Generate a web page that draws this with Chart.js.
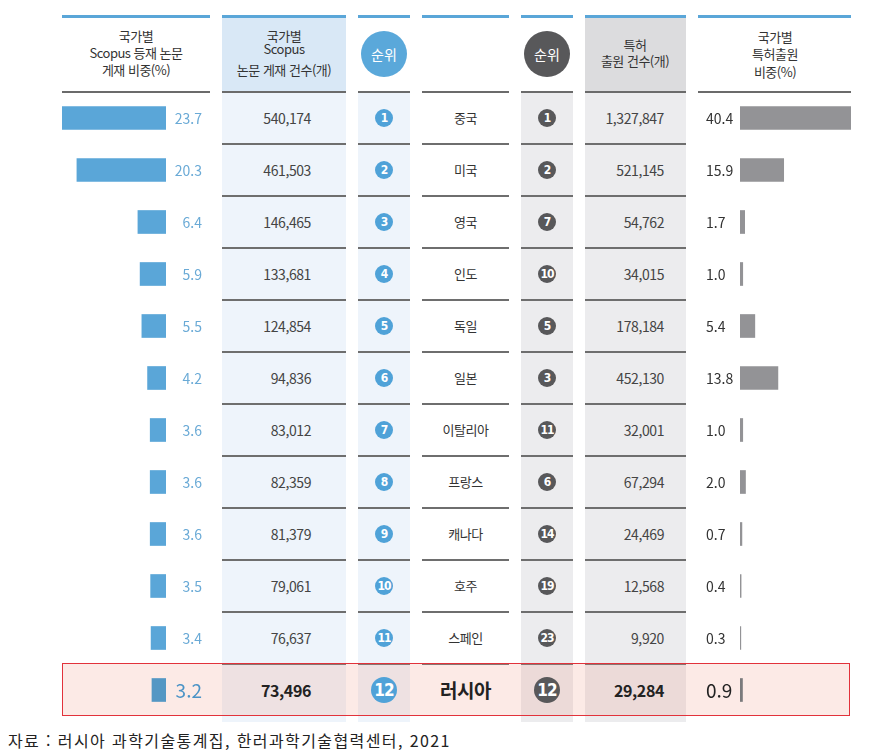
<!DOCTYPE html>
<html lang="ko">
<head>
  <meta charset="UTF-8" />
  <title>러시아 논문·특허 비교</title>
  <style>
    body { margin: 0; background: #fff; font-family: "Noto Sans CJK KR", "Noto Sans", sans-serif; color: #333; }
    #wrap { position: relative; width: 876px; height: 753px; overflow: hidden; }
    .abs { position: absolute; }
    #foot { position: absolute; left: 8px; top: 728px; font-size: 16px; color: #222; letter-spacing: 1.4px; white-space: nowrap; }
  </style>
</head>
<body>
<div id="wrap">
  <canvas id="leftChart" class="abs" width="148" height="624" style="left:62px;top:92px;z-index:2"></canvas>
  <canvas id="rightChart" class="abs" width="153" height="624" style="left:698px;top:92px;z-index:2"></canvas>
  <div id="foot">자료 : 러시아 과학기술통계집, 한러과학기술협력센터, 2021</div>
</div>

<script src="https://cdn.jsdelivr.net/npm/chart.js"></script>
<script>
  // data
  const countries = ['중국', '미국', '영국', '인도', '독일', '일본', '이탈리아', '프랑스', '캐나다', '호주', '스페인', '러시아'];
  const scopusShare = [23.7, 20.3, 6.4, 5.9, 5.5, 4.2, 3.6, 3.6, 3.6, 3.5, 3.4, 3.2];
  const scopusCount = [540174, 461503, 146465, 133681, 124854, 94836, 83012, 82359, 81379, 79061, 76637, 73496];
  const scopusRank = [1, 2, 3, 4, 5, 6, 7, 8, 9, 10, 11, 12];
  const patentRank = [1, 2, 7, 10, 5, 3, 11, 6, 14, 19, 23, 12];
  const patentCount = [1327847, 521145, 54762, 34015, 178184, 452130, 32001, 67294, 24469, 12568, 9920, 29284];
  const patentShare = [40.4, 15.9, 1.7, 1.0, 5.4, 13.8, 1.0, 2.0, 0.7, 0.4, 0.3, 0.9];

  const ROW_TOP = 92, ROW_H = 52;
  const last = countries.length - 1;
  const wrap = document.getElementById('wrap');

  function box(css, html) {
    const d = document.createElement('div');
    d.style.cssText = 'position:absolute;' + css;
    if (html !== undefined) d.innerHTML = html;
    wrap.appendChild(d);
    return d;
  }

  // columns: [left, width]
  const cols = [[62, 148], [222, 124], [358, 52], [422, 87], [521, 52], [585, 101], [698, 153]];

  // column backgrounds
  box('left:222px;top:18px;width:124px;height:74px;background:#d9e8f6');
  box('left:222px;top:92px;width:124px;height:630px;background:#eef4fb');
  box('left:358px;top:92px;width:52px;height:630px;background:#eef4fb');
  box('left:521px;top:92px;width:52px;height:630px;background:#ececee');
  box('left:585px;top:18px;width:101px;height:74px;background:#dcdcde');
  box('left:585px;top:92px;width:101px;height:630px;background:#ececee');

  // top blue lines, header bottom lines
  cols.forEach(c => {
    box('left:' + c[0] + 'px;top:15px;width:' + c[1] + 'px;height:3px;background:#5aa6d8');
    box('left:' + c[0] + 'px;top:91px;width:' + c[1] + 'px;height:2px;background:#6b6b6b');
  });
  // row separators in the table columns
  for (let k = 1; k < countries.length; k++) {
    for (let c = 1; c <= 5; c++) {
      box('left:' + cols[c][0] + 'px;top:' + (ROW_TOP + ROW_H * k - 1) + 'px;width:' + cols[c][1] + 'px;height:1.5px;background:#6e6e6e');
    }
  }

  // highlighted row box (over backgrounds, under marks and text)
  box('left:62px;top:663px;width:786px;height:51px;border:1.5px solid #e2323b;background:rgba(240,150,130,0.2);z-index:1;pointer-events:none');

  // header texts
  function hd(lines, cx, tops) {
    lines.forEach((t, i) => box('left:' + (cx - 70) + 'px;width:140px;top:' + tops[i] + 'px;text-align:center;font-size:13px;line-height:16px;color:#333;letter-spacing:-0.5px;white-space:nowrap', t));
  }
  hd(['국가별', 'Scopus 등재 논문', '게재 비중(%)'], 136, [28, 45, 62]);
  hd(['국가별', 'Scopus', '논문 게재 건수(개)'], 284, [28, 41, 62]);
  hd(['특허', '출원 건수(개)'], 635, [37, 53]);
  hd(['국가별', '특허출원', '비중(%)'], 775, [29, 46, 64]);
  box('left:361px;top:31px;width:46px;height:46px;border-radius:50%;background:#5aa8da;color:#fff;font-size:14px;line-height:46px;text-align:center', '순위');
  box('left:524px;top:31px;width:46px;height:46px;border-radius:50%;background:#58585a;color:#fff;font-size:14px;line-height:46px;text-align:center', '순위');

  // table body
  function dot(cx, cy, n, color, big) {
    const r = big ? 13 : 9;
    box('left:' + (cx - r) + 'px;top:' + (cy - r) + 'px;width:' + (2 * r) + 'px;height:' + (2 * r) + 'px;border-radius:50%;background:' + color +
      ';color:#fff;font-weight:bold;text-align:center;font-family:"Liberation Sans Narrow","DejaVu Sans Condensed",sans-serif;font-size:' + (big ? 17 : 12) +
      'px;line-height:' + (2 * r) + 'px;letter-spacing:-1px;z-index:3', n);
  }
  countries.forEach((name, i) => {
    const cy = ROW_TOP + ROW_H * i + ROW_H / 2;
    const hi = i === last;
    const num = hi ? 'font-size:16px;font-weight:bold;color:#222;' : 'font-size:14px;color:#444;';
    box('right:' + (876 - 311) + 'px;top:' + (cy - 11) + 'px;line-height:22px;white-space:nowrap;letter-spacing:-0.4px;z-index:3;' + num,
      scopusCount[i].toLocaleString('en-US'));
    box('right:' + (876 - 664) + 'px;top:' + (cy - 11) + 'px;line-height:22px;white-space:nowrap;letter-spacing:-0.4px;z-index:3;' + num,
      patentCount[i].toLocaleString('en-US'));
    box('left:422px;width:87px;text-align:center;top:' + (cy - 12) + 'px;line-height:24px;white-space:nowrap;letter-spacing:-0.5px;z-index:3;' +
      (hi ? 'font-size:19px;font-weight:bold;color:#222;' : 'font-size:13px;color:#333;'), name);
    dot(384, cy, scopusRank[i], '#4fa2d8', hi);
    dot(547, cy, patentRank[i], '#58585a', hi);
  });

  // value labels next to bars
  const barLabels = {
    id: 'barLabels',
    afterDatasetsDraw(chart, args, opts) {
      const ctx = chart.ctx;
      const meta = chart.getDatasetMeta(0);
      const data = chart.data.datasets[0].data;
      ctx.save();
      ctx.textBaseline = 'middle';
      meta.data.forEach((bar, i) => {
        const hi = i === last;
        ctx.font = (hi ? '19px' : '14px') + ' "Noto Sans CJK KR", sans-serif';
        ctx.fillStyle = hi ? opts.hiColor : opts.color;
        ctx.textAlign = opts.side === 'right' ? 'right' : 'left';
        const x = opts.side === 'right' ? chart.chartArea.right + opts.gap : chart.chartArea.left - opts.gap;
        ctx.fillText(data[i].toFixed(1), x, bar.y + 1);
      });
      ctx.restore();
    }
  };

  function barChart(id, values, color, hiColor, pad, reverse, max, labelOpts) {
    return new Chart(document.getElementById(id), {
      type: 'bar',
      data: {
        labels: countries,
        datasets: [{
          data: values,
          backgroundColor: values.map((v, i) => i === last ? hiColor : color),
          barThickness: 23,
          borderWidth: 0
        }]
      },
      options: {
        responsive: false,
        animation: false,
        indexAxis: 'y',
        layout: { padding: pad },
        plugins: { legend: { display: false }, tooltip: { enabled: false }, barLabels: labelOpts },
        scales: {
          x: { display: false, reverse: reverse, min: 0, max: max },
          y: { display: false }
        }
      },
      plugins: [barLabels]
    });
  }

  barChart('leftChart', scopusShare, '#5aa6d8', '#5497c4', { right: 44 }, true, 23.7,
    { side: 'right', gap: 36, color: '#6aaad6', hiColor: '#4a93c6' });
  barChart('rightChart', patentShare, '#939396', '#7a7a7c', { left: 42 }, false, 40.4,
    { side: 'left', gap: 34, color: '#333', hiColor: '#222' });
</script>
</body>
</html>
